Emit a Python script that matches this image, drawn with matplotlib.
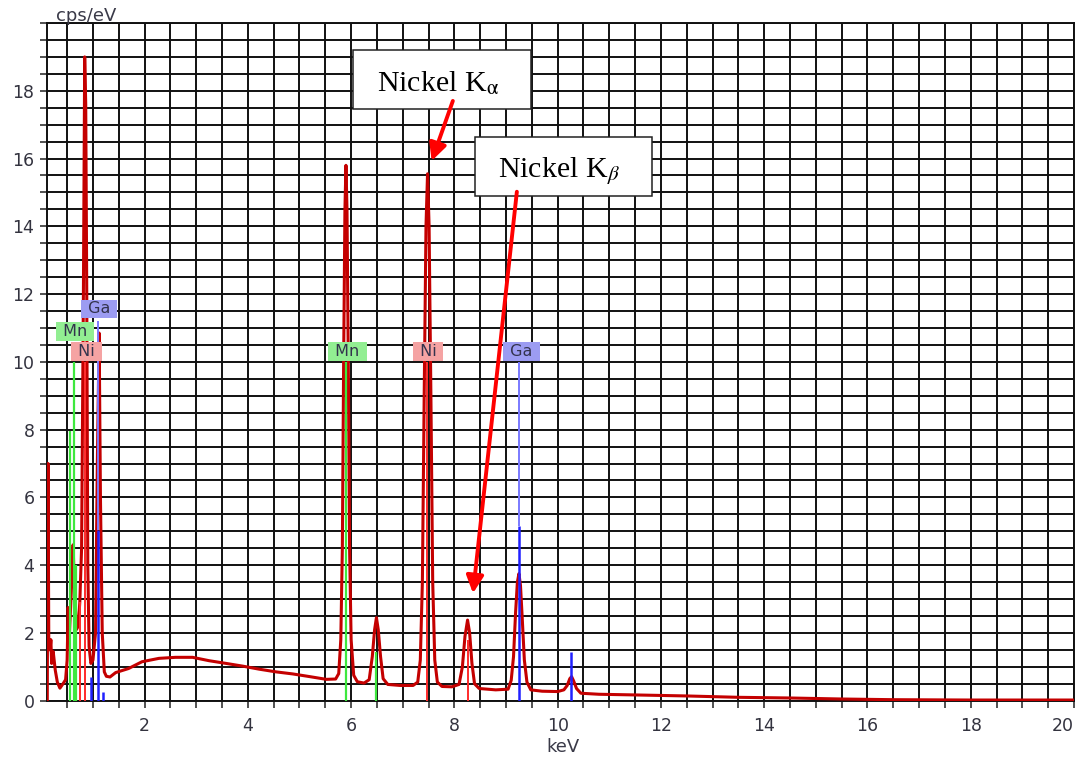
import matplotlib
matplotlib.use("Agg")
import matplotlib.pyplot as plt
from matplotlib.patches import Rectangle
from matplotlib.ticker import MultipleLocator

# EDS spectrum (keV, cps/eV)
energy_kev = [
    0.115, 0.13, 0.145, 0.17, 0.185, 0.20, 0.23, 0.27, 0.31, 0.36, 0.42, 0.47,
    0.50, 0.52, 0.545, 0.58, 0.615, 0.64, 0.68, 0.715, 0.745, 0.78, 0.815, 0.84,
    0.86, 0.88, 0.90, 0.925, 0.96, 1.00, 1.05, 1.085, 1.12, 1.145, 1.18, 1.22,
    1.26, 1.33, 1.44, 1.69, 1.95, 2.28, 2.60, 2.93, 3.25, 3.58, 3.90, 4.22,
    4.55, 4.87, 5.20, 5.52, 5.70, 5.76, 5.80, 5.83, 5.855, 5.88, 5.90, 5.92,
    5.945, 5.97, 6.00, 6.05, 6.12, 6.25, 6.35, 6.41, 6.455, 6.49, 6.525, 6.57,
    6.62, 6.71, 6.95, 7.20, 7.29, 7.34, 7.38, 7.415, 7.45, 7.48, 7.51, 7.545,
    7.58, 7.62, 7.67, 7.76, 7.95, 8.09, 8.155, 8.205, 8.255, 8.295, 8.34, 8.39,
    8.48, 8.80, 9.04, 9.10, 9.145, 9.185, 9.22, 9.25, 9.28, 9.315, 9.355, 9.405,
    9.48, 9.70, 10.00, 10.12, 10.185, 10.235, 10.27, 10.31, 10.365, 10.45, 10.8,
    11.5, 12.5, 13.5, 14.5, 15.5, 16.5, 18.0, 20.0,
]
counts = [
    0.0, 7.0, 1.6, 1.5, 1.8, 1.1, 1.45, 0.9, 0.55, 0.37, 0.5, 0.62,
    1.2, 2.75, 2.0, 3.2, 4.6, 3.4, 2.1, 2.2, 2.9, 4.5, 12.0, 19.0,
    17.6, 12.0, 4.0, 1.6, 1.1, 1.2, 2.0, 7.0, 10.85, 6.0, 2.0, 0.85,
    0.72, 0.7, 0.83, 0.95, 1.15, 1.25, 1.28, 1.28, 1.18, 1.10, 1.02, 0.93,
    0.85, 0.79, 0.71, 0.63, 0.64, 0.8, 1.8, 4.5, 10.0, 14.5, 15.8, 14.5,
    10.0, 4.5, 1.8, 0.75, 0.56, 0.52, 0.62, 1.3, 2.1, 2.45, 2.1, 1.3,
    0.65, 0.48, 0.45, 0.45, 0.55, 1.2, 3.5, 9.0, 14.0, 15.55, 14.0, 9.0,
    3.5, 1.2, 0.55, 0.42, 0.41, 0.48, 1.0, 1.9, 2.38, 2.0, 1.1, 0.5,
    0.36, 0.32, 0.34, 0.6, 1.3, 2.6, 3.5, 3.75, 3.4, 2.4, 1.2, 0.55,
    0.32, 0.28, 0.27, 0.32, 0.45, 0.65, 0.71, 0.58, 0.36, 0.22, 0.19,
    0.17, 0.14, 0.10, 0.08, 0.05, 0.03, 0.02, 0.02,
]

# element marker lines (keV, relative height)
mn_kev = [0.556, 0.637, 0.67, 5.899, 6.49]
mn_height = [7.97, 10.0, 4.0, 10.0, 1.45]
ni_kev = [0.743, 0.851, 7.478, 8.265]
ni_height = [2.9, 10.0, 10.0, 1.79]
ga_kev = [0.957, 1.098, 1.19, 9.251, 10.264]
ga_height = [0.7, 5.03, 0.27, 5.15, 1.45]

# element label boxes
label_names = ["Ga", "Mn", "Ni", "Mn", "Ni", "Ga"]
label_kev = [1.115, 0.65, 0.873, 5.93, 7.49, 9.30]
label_level = [11.56, 10.9, 10.3, 10.3, 10.3, 10.3]

x_major = [2, 4, 6, 8, 10, 12, 14, 16, 18, 20]
y_major = [0, 2, 4, 6, 8, 10, 12, 14, 16, 18]

line_colors = {"Mn": "#3ee83e", "Ni": "#ff2b2b", "Ga": "#2020ff"}
box_colors = {"Mn": "#92ee92", "Ni": "#f5a3a3", "Ga": "#9c9cf2"}

plt.rcParams["mathtext.fontset"] = "stix"

fig = plt.figure(figsize=(10.8, 7.58), dpi=100)
ax = fig.add_axes([47 / 1080, 1 - 700.7 / 758, (1074 - 47) / 1080, (700.7 - 23) / 758])
ax.set_xlim(0.11, 20.0)
ax.set_ylim(0, 20)

ax.xaxis.set_minor_locator(MultipleLocator(0.5))
ax.yaxis.set_minor_locator(MultipleLocator(0.5))
ax.set_xticks(x_major)
ax.set_yticks(y_major)
ax.set_xticklabels([str(v) for v in x_major])
ax.set_yticklabels([str(v) for v in y_major])
# last label sits inside the picture, as in the reference
ax.get_xticklabels()[-1].set_horizontalalignment("right")

ax.set_axisbelow(True)
ax.grid(which="both", color="#111111", lw=1.4)
for side in ax.spines.values():
    side.set_color("#111111")
    side.set_linewidth(1.4)
ax.tick_params(which="both", direction="out", length=5, width=1.2, color="#333333",
               labelsize=12.5, labelcolor="#33333f", pad=4)
ax.tick_params(axis="x", which="both", pad=7)

ax.plot(energy_kev, counts, color="#c40000", lw=2.2, zorder=3, solid_joinstyle="round")

# marker lines
ax.vlines(mn_kev, 0, mn_height, colors=line_colors["Mn"], lw=1.6, zorder=4)
ax.vlines(ni_kev, 0, ni_height, colors=line_colors["Ni"], lw=1.4, zorder=4)
ax.vlines(ga_kev, 0, ga_height, colors=line_colors["Ga"], lw=1.8, zorder=4)
ax.vlines([1.098], 5.03, 11.2, colors="#7a7aff", lw=1.4, zorder=4)
ax.vlines([9.251], 5.15, 10.0, colors="#7a7aff", lw=1.4, zorder=4)

for name, x, y in zip(label_names, label_kev, label_level):
    ax.text(x, y, f" {name} ", ha="center", va="center", fontsize=11.5, color="#33334d",
            bbox=dict(boxstyle="square,pad=0.12", fc=box_colors[name], ec="none"), zorder=6)

# annotations
ax.add_patch(Rectangle((6.03, 17.45), 3.45, 1.74, fc="white", ec="#222222", lw=1.1, zorder=7))
ax.add_patch(Rectangle((8.395, 14.9), 3.425, 1.74, fc="white", ec="#222222", lw=1.1, zorder=7))
ax.text(7.69, 18.0, r"Nickel K$_{\mathrm{\alpha}}$", ha="center", va="baseline",
        fontsize=21.5, family="Liberation Serif", zorder=8)
ax.text(10.02, 15.44, r"Nickel K$_{\beta}$", ha="center", va="baseline",
        fontsize=21.5, family="Liberation Serif", zorder=8)

arrow = dict(arrowstyle="-|>", color="#ff0000", lw=2.8, mutation_scale=26, shrinkA=0, shrinkB=0)
ax.annotate("", xy=(7.56, 15.93), xytext=(7.97, 17.70), arrowprops=arrow, zorder=8)
ax.annotate("", xy=(8.36, 3.17), xytext=(9.21, 15.02), arrowprops=arrow, zorder=8)

fig.text(86 / 1080, 1 - 16 / 758, "cps/eV", ha="center", va="center", fontsize=13, color="#3a3a48")
fig.text(563 / 1080, 1 - 747 / 758, "keV", ha="center", va="center", fontsize=13, color="#3a3a48")

fig.savefig("out.png", dpi=100)
